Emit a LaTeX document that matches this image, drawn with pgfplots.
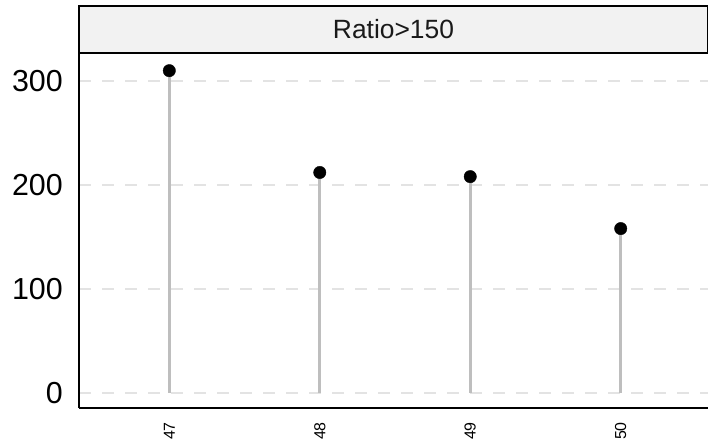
\documentclass[border=0pt]{standalone}
\usepackage{pgfplots}
\pgfplotsset{compat=1.18}
\usepackage{fontspec}
\setmainfont{Liberation Sans}
\definecolor{gridgrey}{HTML}{E3E3E3}
\definecolor{stemgrey}{HTML}{BEBEBE}
\definecolor{stripfill}{HTML}{F2F2F2}
\definecolor{striptext}{HTML}{1A1A1A}

\begin{document}
\begin{tikzpicture}
\begin{axis}[
    name=ax,
    scale only axis, width=629bp, height=355bp,
    xmin=46.4, xmax=50.58, ymin=-14.7, ymax=327,
    axis lines*=left, axis line style={-, black, line width=1.8bp},
    xtick={47,48,49,50}, ytick={0,100,200,300},
    major tick length=0pt,
    ymajorgrids, grid style={gridgrey, line width=2bp, dash pattern=on 12bp off 11bp},
    /pgf/number format/assume math mode=true,
    yticklabel style={font=\fontsize{30.5}{30.5}\selectfont, inner sep=0pt},
    yticklabel shift=16bp,
    xticklabel style={font=\fontsize{16}{16}\selectfont, rotate=90, anchor=east, inner sep=0pt},
    xticklabel shift=14bp,
]
% lollipop stems
\addplot[ycomb, stemgrey, line width=2.8bp] coordinates {
(47,310) (48,212) (49,208) (50,158)
};
% dots
\addplot[only marks, mark=*, mark size=6.2bp, black] coordinates {
(47,310) (48,212) (49,208) (50,158)
};
\end{axis}
% facet strip
\draw[line width=1.5bp, fill=stripfill] (ax.north west) rectangle ([xshift=-0.75bp, yshift=47bp]ax.north east);
\node[font=\fontsize{26.5}{26.5}\selectfont, text=striptext] at ([yshift=23.5bp]ax.north) {Ratio>150};
\pgfresetboundingbox
\path[use as bounding box] ([xshift=-79bp,yshift=-33bp]ax.south west) rectangle ([yshift=53bp]ax.north east);
\end{tikzpicture}
\end{document}
